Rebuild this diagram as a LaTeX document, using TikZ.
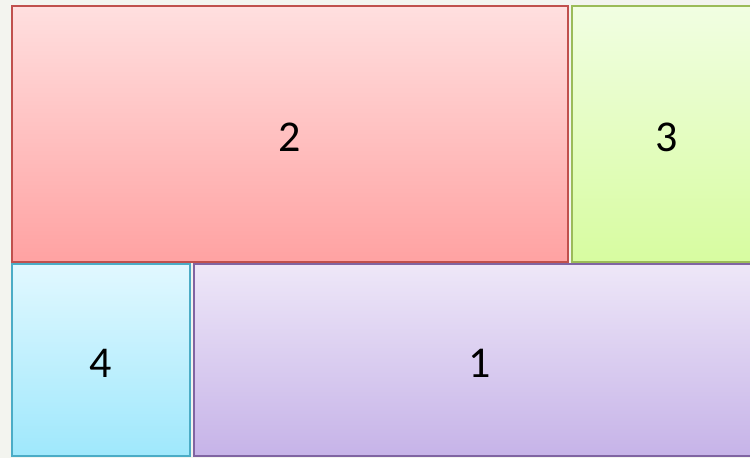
\documentclass[tikz,border=0pt]{standalone}
\usepackage{fontspec}
\setmainfont{Carlito}
\definecolor{bg}{HTML}{F3F4EF}
\definecolor{redtop}{HTML}{FFDFDF}
\definecolor{redbot}{HTML}{FFA2A2}
\definecolor{redline}{HTML}{C0504D}
\definecolor{greentop}{HTML}{F1FEE2}
\definecolor{greenbot}{HTML}{D7FCA0}
\definecolor{greenline}{HTML}{9BBB59}
\definecolor{cyantop}{HTML}{E1F8FF}
\definecolor{cyanbot}{HTML}{9FE8FC}
\definecolor{cyanline}{HTML}{4BACC6}
\definecolor{purptop}{HTML}{EEE7F8}
\definecolor{purpbot}{HTML}{C6B3E8}
\definecolor{purpline}{HTML}{8064A2}
\tikzset{
  tile/.style={draw=#1line, line width=1.5pt, top color=#1top, bottom color=#1bot},
  digit/.style={inner sep=0pt, font=\fontsize{44}{52}\selectfont, text=black, yshift=-3pt},
}
\begin{document}
\begin{tikzpicture}[x=1pt,y=1pt]
\useasboundingbox (0,0) rectangle (750,458);
\clip (0,0) rectangle (750,458);
\fill[bg] (0,0) rectangle (750,458);
\path[tile=red] (12,196) rectangle (568,452) node[midway, digit] (n2) {2};
\path[tile=green] (572,196) rectangle (762,452) node[midway, digit] (n3) {3};
\path[tile=cyan] (12,2) rectangle (190,194) node[midway, digit] (n4) {4};
\path[tile=purp] (194,2) rectangle (766,194) node[midway, digit] (n1) {1};
\end{tikzpicture}
\end{document}
